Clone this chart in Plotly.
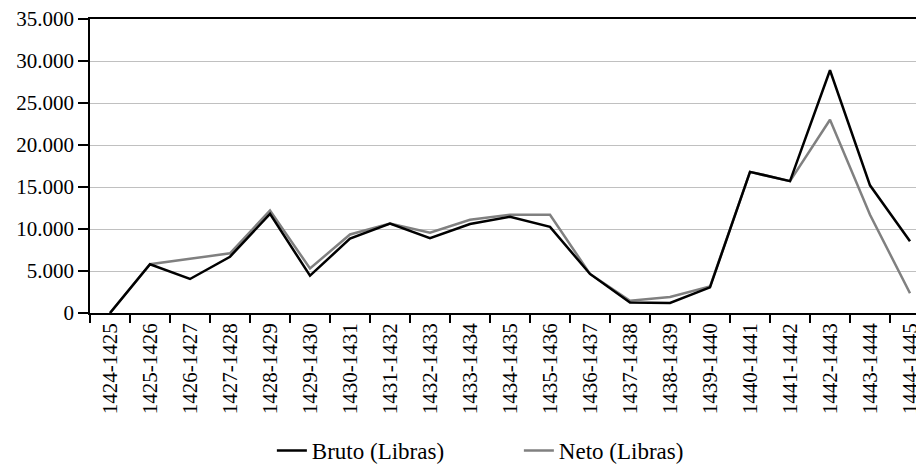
import plotly.graph_objects as go

categories = ["1424-1425", "1425-1426", "1426-1427", "1427-1428", "1428-1429", "1429-1430",
              "1430-1431", "1431-1432", "1432-1433", "1433-1434", "1434-1435", "1435-1436",
              "1436-1437", "1437-1438", "1438-1439", "1439-1440", "1440-1441", "1441-1442",
              "1442-1443", "1443-1444", "1444-1445"]
bruto = [0, 5800, 4050, 6700, 11800, 4450, 8850, 10650, 8900, 10600, 11450, 10250,
         4650, 1250, 1200, 3050, 16800, 15700, 28900, 15200, 8550]
neto = [0, 5800, 6450, 7100, 12200, 5300, 9350, 10650, 9550, 11100, 11700, 11700,
        4650, 1450, 1900, 3150, 16800, 15700, 23000, 11700, 2350]
y_ticks = [0, 5000, 10000, 15000, 20000, 25000, 30000, 35000]
y_labels = ["0", "5.000", "10.000", "15.000", "20.000", "25.000", "30.000", "35.000"]

FONT = "Liberation Serif"

fig = go.Figure()
fig.add_trace(go.Scatter(x=categories, y=neto, mode="lines", name="Neto (Libras)",
                         line=dict(color="#808080", width=2.5), legendrank=2))
fig.add_trace(go.Scatter(x=categories, y=bruto, mode="lines", name="Bruto (Libras)",
                         line=dict(color="#000000", width=2.5), legendrank=1))

fig.update_layout(
    width=924, height=464,
    margin=dict(l=82, r=0, t=11, b=158),
    paper_bgcolor="white", plot_bgcolor="white",
    font=dict(family=FONT, size=21, color="black"),
    showlegend=True,
    legend=dict(orientation="h", x=0.216, xanchor="left", y=-0.47, yanchor="middle",
                font=dict(family=FONT, size=23, color="black"),
                entrywidth=202, entrywidthmode="pixels"),
    xaxis=dict(type="category", range=[-0.5, 20.55], showline=True, mirror=True,
               linecolor="black", linewidth=1.5, showgrid=False, ticks="outside",
               tickson="boundaries", ticklen=8, tickcolor="black", tickwidth=1.5,
               tickangle=-90, automargin=False, tickfont=dict(family=FONT, size=21)),
    yaxis=dict(range=[0, 35000], tickvals=y_ticks, ticktext=y_labels, showline=True,
               linecolor="black", linewidth=1.5, showgrid=True, gridcolor="#c0c0c0",
               gridwidth=1.2, zeroline=False, ticks="outside", ticklen=10,
               automargin=False, ticklabeloverflow="allow", tickcolor="black",
               tickwidth=1.5, tickfont=dict(family=FONT, size=21)),
)

fig.write_html("out.html")
